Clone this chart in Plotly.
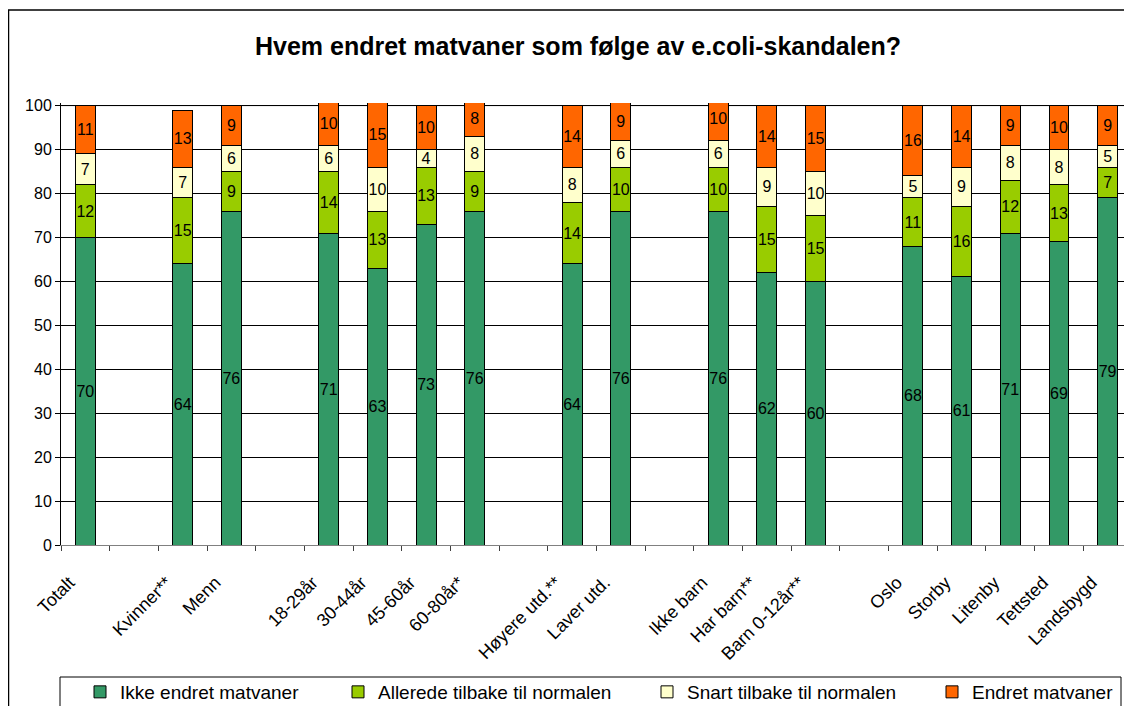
import plotly.graph_objects as go

categories = ["Totalt", " ", "Kvinner**", "Menn", "  ", "18-29år", "30-44år", "45-60år", "60-80år*",
              "   ", "Høyere utd.**", "Laver utd.", "    ", "Ikke barn", "Har barn**", "Barn 0-12år**",
              "     ", "Oslo", "Storby", "Litenby", "Tettsted", "Landsbygd"]
ikke_endret = [70, None, 64, 76, None, 71, 63, 73, 76, None, 64, 76, None, 76, 62, 60, None, 68, 61, 71, 69, 79]
allerede = [12, None, 15, 9, None, 14, 13, 13, 9, None, 14, 10, None, 10, 15, 15, None, 11, 16, 12, 13, 7]
snart = [7, None, 7, 6, None, 6, 10, 4, 8, None, 8, 6, None, 6, 9, 10, None, 5, 9, 8, 8, 5]
endret = [11, None, 13, 9, None, 10, 15, 10, 8, None, 14, 9, None, 10, 14, 15, None, 16, 14, 9, 10, 9]

series_names = ["Ikke endret matvaner", "Allerede tilbake til normalen",
                "Snart tilbake til normalen", "Endret matvaner"]
series_values = [ikke_endret, allerede, snart, endret]
series_colors = ["#339966", "#99CC00", "#FFFFCC", "#FF6600"]

FONT = "Liberation Sans, Arial, sans-serif"
# page body has an 8px margin; figure is laid out in its own pixel coordinates
W, H = 1124, 698
L, R, T, B = 53, 0, 95, 161

pw = W - L - R
ph = H - T - B
def px(x):
    return (x - L) / pw
def py(y):
    return (H - B - y) / ph

legend_ids = ["legend", "legend2", "legend3", "legend4"]
legend_x = [72, 330, 639, 924]

fig = go.Figure()
for i, (name, vals, col) in enumerate(zip(series_names, series_values, series_colors)):
    fig.add_trace(go.Bar(
        name=name, x=categories, y=vals, legend=legend_ids[i], showlegend=True,
        marker=dict(color=col, line=dict(color="black", width=1)),
        text=[str(v) if v is not None else "" for v in vals],
        textposition="inside", insidetextanchor="middle", textangle=0,
        constraintext="none",
        textfont=dict(family=FONT, size=16, color="black"),
    ))

shapes = [
    dict(type="line", xref="x domain", yref="y", x0=0, x1=1, y0=100, y1=100,
         line=dict(color="#808080", width=1), layer="below"),
    # outer chart frame
    dict(type="line", xref="paper", yref="paper", x0=px(0.5), x1=px(0.5), y0=py(2), y1=py(720),
         line=dict(color="black", width=1.5)),
    dict(type="line", xref="paper", yref="paper", x0=px(0), x1=px(1140), y0=py(2), y1=py(2),
         line=dict(color="black", width=1.5)),
    # legend box
    dict(type="rect", xref="paper", yref="paper", x0=px(52), x1=px(1113), y0=py(669), y1=py(715),
         line=dict(color="black", width=1), fillcolor="rgba(0,0,0,0)"),
]

legend_common = dict(orientation="h", xanchor="left", yanchor="middle", y=py(684),
                     font=dict(family=FONT, size=19, color="black"), bgcolor="rgba(0,0,0,0)")

fig.update_layout(
    width=W, height=H,
    showlegend=True,
    margin=dict(l=L, r=R, t=T, b=B, autoexpand=False),
    paper_bgcolor="white", plot_bgcolor="white",
    barmode="stack", bargap=0.59,
    font=dict(family=FONT, size=16, color="black"),
    title=dict(text="<b>Hvem endret matvaner som følge av e.coli-skandalen?</b>",
               x=570 / W, xref="container", xanchor="center", y=1 - 38 / H, yanchor="middle",
               font=dict(family=FONT, size=25, color="black")),
    xaxis=dict(type="category", tickangle=-45, ticks="outside", tickson="boundaries",
               ticklen=5, tickcolor="#404040", showline=True, linecolor="#808080", linewidth=1,
               showgrid=False, tickfont=dict(family=FONT, size=18),
               ticklabelshift=-16, ticklabelstandoff=19),
    yaxis=dict(range=[0, 100.6], tickvals=list(range(0, 101, 10)), ticks="outside", ticklen=5,
               tickcolor="black", showline=True, linecolor="black", linewidth=1,
               showgrid=True, gridcolor="black", gridwidth=1, zeroline=False,
               tickfont=dict(family=FONT, size=16)),
    legend=dict(x=px(legend_x[0]), **legend_common),
    legend2=dict(x=px(legend_x[1]), **legend_common),
    legend3=dict(x=px(legend_x[2]), **legend_common),
    legend4=dict(x=px(legend_x[3]), **legend_common),
    shapes=shapes,
)

fig.write_html("out.html")
